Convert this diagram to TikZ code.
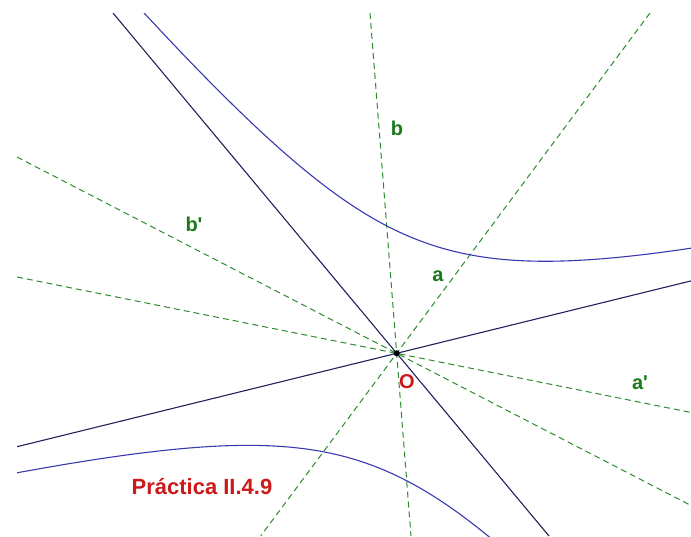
\documentclass[tikz,border=0pt]{standalone}
\usepackage{fontspec}
\setsansfont{Liberation Sans}[Ligatures=TeXOff]
\usetikzlibrary{positioning}
\definecolor{cHyp}{HTML}{3A3AB0}
\definecolor{cAsym}{HTML}{22225E}
\definecolor{cDiam}{HTML}{2E8B2E}
\definecolor{cLbl}{HTML}{1A7A1A}
\definecolor{cRed}{HTML}{CC1A1A}
\tikzset{
  hypline/.style={draw=cHyp, line width=1.1pt},
  asymline/.style={draw=cAsym, line width=1.1pt},
  diamline/.style={draw=cDiam, line width=1pt, dash pattern=on 6pt off 4pt},
  lbl/.style={text=#1, font=\sffamily\bfseries\fontsize{20}{24}\selectfont, inner sep=0pt},
}

\begin{document}
\begin{tikzpicture}[x=10pt, y=-10pt]
\useasboundingbox[fill=white] (0,0) rectangle (69.1,53.6);
\coordinate (O) at (39.67,35.33);
% asymptotes
\coordinate (s1) at (11.3,1.3);   \coordinate (s1') at (54.9,53.6);
\coordinate (s2) at (1.7,44.67);  \coordinate (s2') at (69.1,28.09);
% conjugate diameters
\coordinate (da) at (65.0,1.3);   \coordinate (da') at (26.07,53.6);
\coordinate (db) at (37.0,1.3);   \coordinate (db') at (41.1,53.6);
\coordinate (dbb) at (1.7,15.7);  \coordinate (dbb') at (69.1,50.55);
\coordinate (daa) at (1.7,27.7);  \coordinate (daa') at (69.1,41.25);
\begin{scope}
\clip (1.7,1.3) rectangle (69.1,53.6);
\draw[diamline] (da) -- (da');
\draw[diamline] (db) -- (db');
\draw[diamline] (dbb) -- (dbb');
\draw[diamline] (daa) -- (daa');
\draw[asymline] (s1) -- (s1');
\draw[asymline] (s2) -- (s2');
% hyperbola branches
\draw[hypline] plot[domain=3:50, samples=220, variable=\s, smooth]
  ({39.67+(\s-150/\s)/1.4455}, {35.33-(\s-1.1995*(\s-150/\s)/1.4455)});
\draw[hypline] plot[domain=-62:-6.5, samples=220, variable=\s, smooth]
  ({39.67+(\s-150/\s)/1.4455}, {35.33-(\s-1.1995*(\s-150/\s)/1.4455)});
\end{scope}
\fill[black] (O) circle (3pt);
% labels
\node[lbl=cLbl] (lb) at (39.7,12.8) {b};
\node[lbl=cLbl] (la) at (43.8,27.6) {a};
\node[lbl=cLbl] (lbb) at (19.4,22.4) {b'};
\node[lbl=cLbl] (laa) at (64.0,38.3) {a'};
\node[lbl=cRed] (lO) at (40.7,38.2) {O};
\node[lbl=cRed, font=\sffamily\bfseries\fontsize{22}{26}\selectfont] (title) at (20.2,48.7) {Práctica II.4.9};
\end{tikzpicture}
\end{document}
